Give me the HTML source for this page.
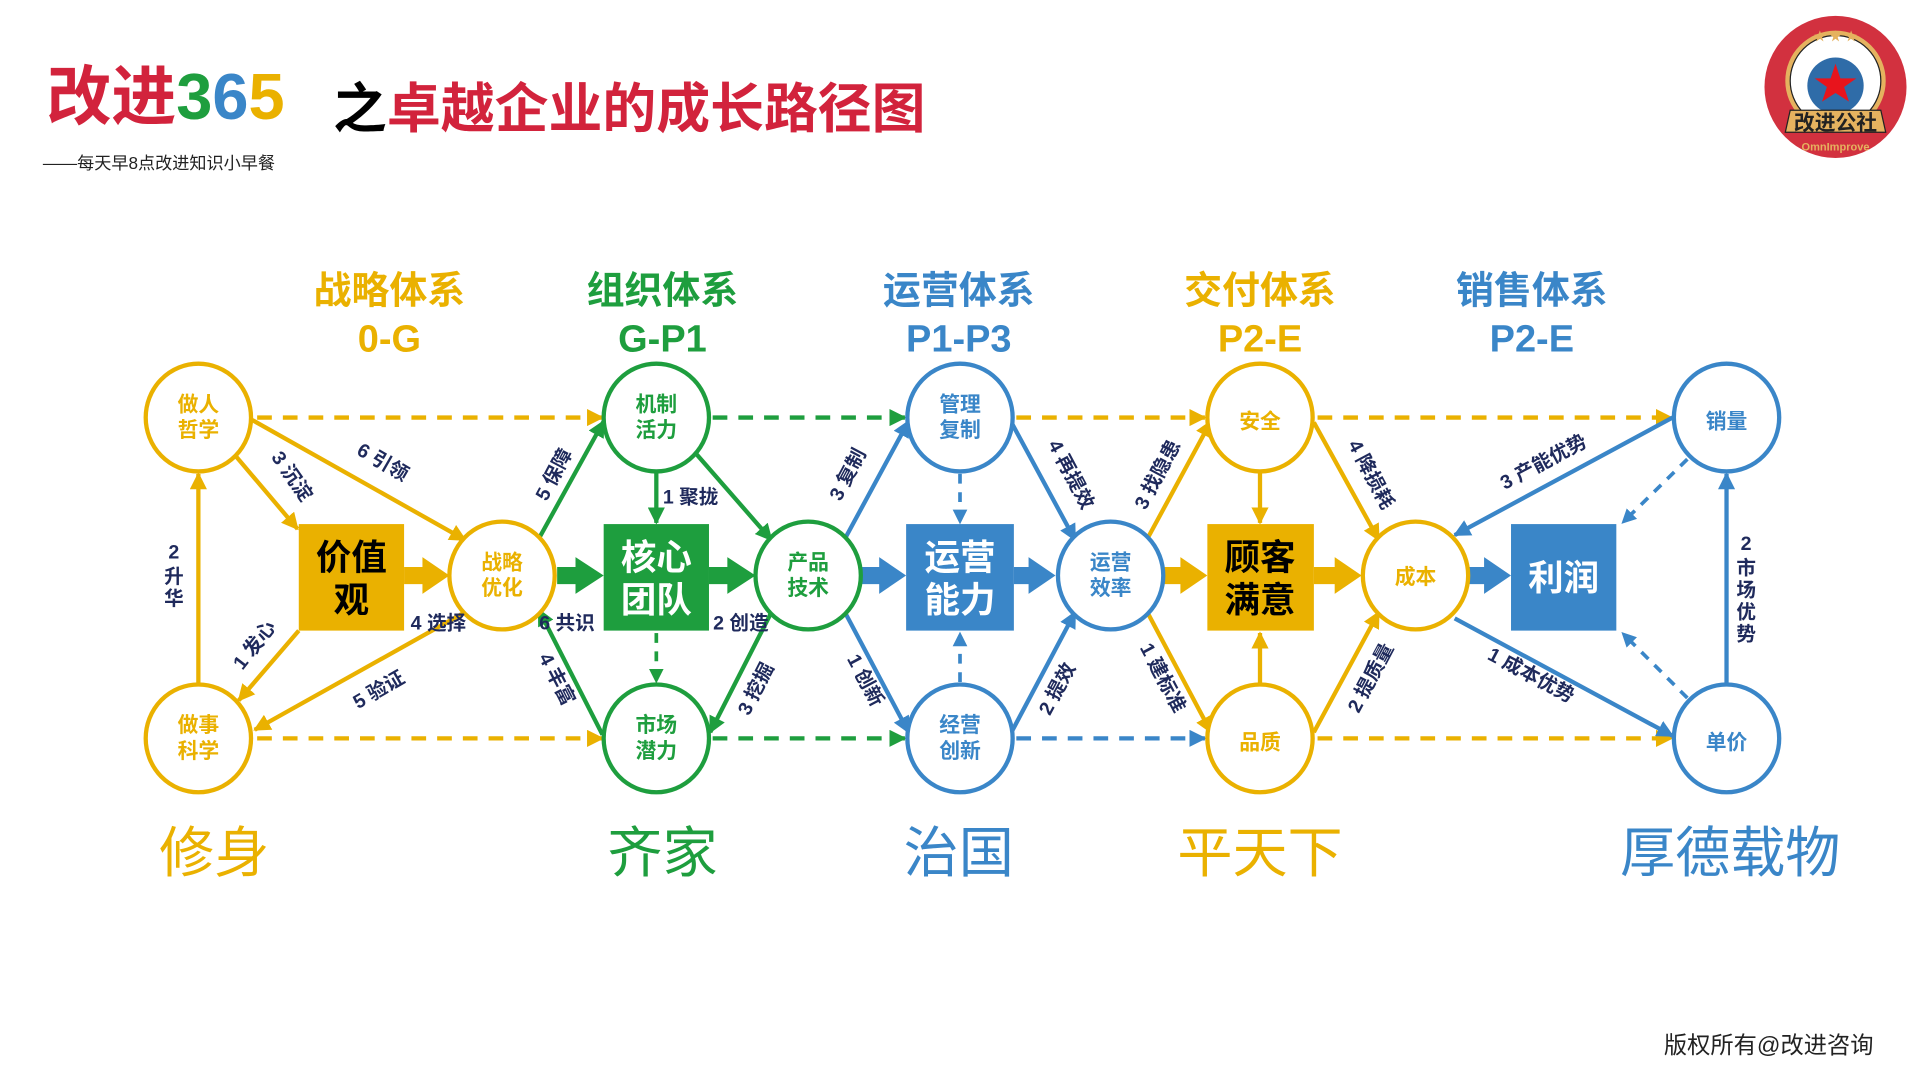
<!DOCTYPE html>
<html><head><meta charset="utf-8"><style>
html,body{margin:0;padding:0;background:#fff;}
svg{display:block;}
text{font-family:"Liberation Sans","Noto Sans CJK SC",sans-serif;font-weight:bold;}
</style></head><body>
<svg width="1920" height="1080" viewBox="0 0 1568 882" xmlns="http://www.w3.org/2000/svg">
<defs>
<marker id="ay" viewBox="0 0 10 10" refX="9" refY="5" markerWidth="4" markerHeight="4" orient="auto"><path d="M0,0L10,5L0,10z" fill="#EAB100"/></marker>
<marker id="ag" viewBox="0 0 10 10" refX="9" refY="5" markerWidth="4" markerHeight="4" orient="auto"><path d="M0,0L10,5L0,10z" fill="#1E9E3E"/></marker>
<marker id="ab" viewBox="0 0 10 10" refX="9" refY="5" markerWidth="4" markerHeight="4" orient="auto"><path d="M0,0L10,5L0,10z" fill="#3A86C8"/></marker>
</defs>

<!-- title -->
<text x="38" y="97" font-size="53" fill="#D2233C">改进<tspan fill="#1E9E3E">3</tspan><tspan fill="#3A86C8">6</tspan><tspan fill="#EAB100">5</tspan></text>
<text x="272" y="104" font-size="44" fill="#000">之<tspan fill="#D2233C">卓越企业的成长路径图</tspan></text>
<text x="35" y="138" font-size="14" fill="#222" style="font-weight:normal">——每天早8点改进知识小早餐</text>
<text x="1530" y="860" font-size="19" fill="#222" text-anchor="end" style="font-weight:normal">版权所有@改进咨询</text>

<!-- logo -->
<g>
<circle cx="1499" cy="71" r="58" fill="#D2313F"/>
<circle cx="1499" cy="66" r="41" fill="#E5B25F"/>
<circle cx="1499" cy="66" r="37" fill="#fff" stroke="#222" stroke-width="1"/>
<circle cx="1499" cy="70" r="23" fill="#2F6CA8"/>
<polygon points="1499,52 1503,64 1516,64 1506,71 1510,83 1499,76 1488,83 1492,71 1482,64 1495,64" fill="#E8141C"/>
<path d="M1462,90 L1536,90 L1540,108 L1458,108 z" fill="#E5B25F" stroke="#222" stroke-width="1"/>
<text x="1499" y="106" font-size="17" text-anchor="middle" fill="#222" font-family="Noto Serif CJK SC,serif">改进公社</text>
<text x="1499" y="123" font-size="9" text-anchor="middle" fill="#E5B25F" font-family="Liberation Serif,serif">OmnImprove</text>
<text x="1499" y="33" font-size="10" text-anchor="middle" fill="#E5B25F">★ ★ ★</text>
</g>

<!-- headings -->
<g font-size="31" text-anchor="middle">
<text x="318" y="248" fill="#EAB100">战略体系</text><text x="318" y="287" fill="#EAB100">0-G</text>
<text x="541" y="248" fill="#1E9E3E">组织体系</text><text x="541" y="287" fill="#1E9E3E">G-P1</text>
<text x="783" y="248" fill="#3A86C8">运营体系</text><text x="783" y="287" fill="#3A86C8">P1-P3</text>
<text x="1029" y="248" fill="#EAB100">交付体系</text><text x="1029" y="287" fill="#EAB100">P2-E</text>
<text x="1251" y="248" fill="#3A86C8">销售体系</text><text x="1251" y="287" fill="#3A86C8">P2-E</text>
</g>
<g font-size="45" text-anchor="middle">
<text x="175" y="712" fill="#EAB100" style="font-weight:normal">修身</text>
<text x="541" y="712" fill="#1E9E3E" style="font-weight:normal">齐家</text>
<text x="783" y="712" fill="#3A86C8" style="font-weight:normal">治国</text>
<text x="1029" y="712" fill="#EAB100" style="font-weight:normal">平天下</text>
<text x="1413" y="712" fill="#3A86C8" style="font-weight:normal">厚德载物</text>
</g>

<!-- dashed horizontals -->
<g stroke-width="3.5" stroke-dasharray="12,9" fill="none">
<line x1="210" y1="341" x2="492" y2="341" stroke="#EAB100" marker-end="url(#ay)"/>
<line x1="210" y1="603" x2="492" y2="603" stroke="#EAB100" marker-end="url(#ay)"/>
<line x1="582" y1="341" x2="739" y2="341" stroke="#1E9E3E" marker-end="url(#ag)"/>
<line x1="582" y1="603" x2="739" y2="603" stroke="#1E9E3E" marker-end="url(#ag)"/>
<line x1="830" y1="341" x2="984" y2="341" stroke="#EAB100" marker-end="url(#ay)"/>
<line x1="830" y1="603" x2="984" y2="603" stroke="#3A86C8" marker-end="url(#ab)"/>
<line x1="1076" y1="341" x2="1365" y2="341" stroke="#EAB100" marker-end="url(#ay)"/>
<line x1="1076" y1="603" x2="1365" y2="603" stroke="#EAB100" marker-end="url(#ay)"/>
<line x1="536" y1="517" x2="536" y2="557" stroke="#1E9E3E" marker-end="url(#ag)" stroke-dasharray="8,7" stroke-width="3"/>
<line x1="784" y1="387" x2="784" y2="427" stroke="#3A86C8" marker-end="url(#ab)" stroke-dasharray="8,7" stroke-width="3"/>
<line x1="784" y1="557" x2="784" y2="517" stroke="#3A86C8" marker-end="url(#ab)" stroke-dasharray="8,7" stroke-width="3"/>
<line x1="1378" y1="375" x2="1325" y2="427" stroke="#3A86C8" marker-end="url(#ab)" stroke-dasharray="8,7" stroke-width="3"/>
<line x1="1378" y1="570" x2="1325" y2="517" stroke="#3A86C8" marker-end="url(#ab)" stroke-dasharray="8,7" stroke-width="3"/>
</g>

<!-- solid lines -->
<g stroke-width="3.5" fill="none">
<g stroke="#EAB100">
<line x1="162" y1="558" x2="162" y2="387" marker-end="url(#ay)"/>
<line x1="193" y1="373" x2="243" y2="432" marker-end="url(#ay)"/>
<line x1="206" y1="343" x2="380" y2="441" marker-end="url(#ay)"/>
<line x1="244" y1="515" x2="195" y2="572" marker-end="url(#ay)"/>
<line x1="385" y1="497" x2="208" y2="596" marker-end="url(#ay)"/>
<line x1="937" y1="440" x2="989" y2="344" marker-end="url(#ay)"/>
<line x1="937" y1="500" x2="989" y2="598" marker-end="url(#ay)"/>
<line x1="1029" y1="386" x2="1029" y2="427" marker-end="url(#ay)"/>
<line x1="1029" y1="558" x2="1029" y2="517" marker-end="url(#ay)"/>
<line x1="1073" y1="345" x2="1126" y2="441" marker-end="url(#ay)"/>
<line x1="1073" y1="598" x2="1126" y2="500" marker-end="url(#ay)"/>
</g>
<g stroke="#1E9E3E">
<line x1="440" y1="440" x2="493" y2="344" marker-end="url(#ag)"/>
<line x1="492" y1="600" x2="440" y2="498" marker-end="url(#ag)"/>
<line x1="536" y1="386" x2="536" y2="427" marker-end="url(#ag)"/>
<line x1="568" y1="370" x2="630" y2="441" marker-end="url(#ag)"/>
<line x1="630" y1="500" x2="580" y2="598" marker-end="url(#ag)"/>
</g>
<g stroke="#3A86C8">
<line x1="690" y1="440" x2="742" y2="344" marker-end="url(#ab)"/>
<line x1="690" y1="500" x2="742" y2="598" marker-end="url(#ab)"/>
<line x1="826" y1="345" x2="878" y2="441" marker-end="url(#ab)"/>
<line x1="826" y1="598" x2="878" y2="500" marker-end="url(#ab)"/>
<line x1="1366" y1="341" x2="1188" y2="437" marker-end="url(#ab)"/>
<line x1="1188" y1="505" x2="1366" y2="601" marker-end="url(#ab)"/>
<line x1="1410" y1="558" x2="1410" y2="387" marker-end="url(#ab)"/>
</g>
</g>

<!-- thick arrows -->
<g>
<polygon points="330,463 345,463 345,455 367,470 345,485 345,477 330,477" fill="#EAB100"/>
<polygon points="455,463 470,463 470,455 493,470 470,485 470,477 455,477" fill="#1E9E3E"/>
<polygon points="579,463 594,463 594,455 617,470 594,485 594,477 579,477" fill="#1E9E3E"/>
<polygon points="704,463 718,463 718,455 740,470 718,485 718,477 704,477" fill="#3A86C8"/>
<polygon points="828,463 840,463 840,455 862,470 840,485 840,477 828,477" fill="#3A86C8"/>
<polygon points="951,463 964,463 964,455 986,470 964,485 964,477 951,477" fill="#EAB100"/>
<polygon points="1073,463 1090,463 1090,455 1112,470 1090,485 1090,477 1073,477" fill="#EAB100"/>
<polygon points="1200,463 1212,463 1212,455 1234,470 1212,485 1212,477 1200,477" fill="#3A86C8"/>
</g>

<!-- boxes -->
<rect x="244" y="428" width="86" height="87" fill="#EAB100"/>
<text x="287" y="465" font-size="29" text-anchor="middle" fill="#000">价值</text><text x="287" y="500" font-size="29" text-anchor="middle" fill="#000">观</text>
<rect x="493" y="428" width="86" height="87" fill="#1E9E3E"/>
<text x="536" y="465" font-size="29" text-anchor="middle" fill="#fff">核心</text><text x="536" y="500" font-size="29" text-anchor="middle" fill="#fff">团队</text>
<rect x="740" y="428" width="88" height="87" fill="#3A86C8"/>
<text x="784" y="465" font-size="29" text-anchor="middle" fill="#fff">运营</text><text x="784" y="500" font-size="29" text-anchor="middle" fill="#fff">能力</text>
<rect x="986" y="428" width="87" height="87" fill="#EAB100"/>
<text x="1029" y="465" font-size="29" text-anchor="middle" fill="#000">顾客</text><text x="1029" y="500" font-size="29" text-anchor="middle" fill="#000">满意</text>
<rect x="1234" y="428" width="86" height="87" fill="#3A86C8"/>
<text x="1277" y="482" font-size="29" text-anchor="middle" fill="#fff">利润</text>

<!-- circles -->
<g fill="#fff" stroke-width="3.5">
<ellipse cx="162" cy="341" rx="43" ry="44" stroke="#EAB100"/>
<ellipse cx="162" cy="603" rx="43" ry="44" stroke="#EAB100"/>
<ellipse cx="410" cy="470" rx="43" ry="44" stroke="#EAB100"/>
<ellipse cx="536" cy="341" rx="43" ry="44" stroke="#1E9E3E"/>
<ellipse cx="536" cy="603" rx="43" ry="44" stroke="#1E9E3E"/>
<ellipse cx="660" cy="470" rx="43" ry="44" stroke="#1E9E3E"/>
<ellipse cx="784" cy="341" rx="43" ry="44" stroke="#3A86C8"/>
<ellipse cx="784" cy="603" rx="43" ry="44" stroke="#3A86C8"/>
<ellipse cx="907" cy="470" rx="43" ry="44" stroke="#3A86C8"/>
<ellipse cx="1029" cy="341" rx="43" ry="44" stroke="#EAB100"/>
<ellipse cx="1029" cy="603" rx="43" ry="44" stroke="#EAB100"/>
<ellipse cx="1156" cy="470" rx="43" ry="44" stroke="#EAB100"/>
<ellipse cx="1410" cy="341" rx="43" ry="44" stroke="#3A86C8"/>
<ellipse cx="1410" cy="603" rx="43" ry="44" stroke="#3A86C8"/>
</g>
<g font-size="17" text-anchor="middle">
<text x="162" y="336" fill="#EAB100">做人</text><text x="162" y="357" fill="#EAB100">哲学</text>
<text x="162" y="598" fill="#EAB100">做事</text><text x="162" y="619" fill="#EAB100">科学</text>
<text x="410" y="465" fill="#EAB100">战略</text><text x="410" y="486" fill="#EAB100">优化</text>
<text x="536" y="336" fill="#1E9E3E">机制</text><text x="536" y="357" fill="#1E9E3E">活力</text>
<text x="536" y="598" fill="#1E9E3E">市场</text><text x="536" y="619" fill="#1E9E3E">潜力</text>
<text x="660" y="465" fill="#1E9E3E">产品</text><text x="660" y="486" fill="#1E9E3E">技术</text>
<text x="784" y="336" fill="#3A86C8">管理</text><text x="784" y="357" fill="#3A86C8">复制</text>
<text x="784" y="598" fill="#3A86C8">经营</text><text x="784" y="619" fill="#3A86C8">创新</text>
<text x="907" y="465" fill="#3A86C8">运营</text><text x="907" y="486" fill="#3A86C8">效率</text>
<text x="1029" y="350" fill="#EAB100">安全</text>
<text x="1029" y="612" fill="#EAB100">品质</text>
<text x="1156" y="477" fill="#EAB100">成本</text>
<text x="1410" y="350" fill="#3A86C8">销量</text>
<text x="1410" y="612" fill="#3A86C8">单价</text>
</g>

<!-- edge labels -->
<g font-size="16" fill="#1F2A5C" text-anchor="middle">
<text x="142" y="456">2</text>
<text x="142" y="476">升</text><text x="142" y="494">华</text>
<text x="1426" y="449">2</text>
<text x="1426" y="469">市</text><text x="1426" y="487">场</text><text x="1426" y="505">优</text><text x="1426" y="523">势</text>
<text transform="translate(234,392) rotate(55)">3 沉淀</text>
<text transform="translate(310,382) rotate(30)">6 引领</text>
<text transform="translate(212,530) rotate(-52)">1 发心</text>
<text transform="translate(312,568) rotate(-30)">5 验证</text>
<text x="358" y="514">4 选择</text>
<text transform="translate(457,390) rotate(-62)">5 保障</text>
<text transform="translate(450,557) rotate(63)">4 丰富</text>
<text x="463" y="514">6 共识</text>
<text x="564" y="411">1 聚拢</text>
<text x="605" y="514">2 创造</text>
<text transform="translate(622,565) rotate(-63)">3 挖掘</text>
<text transform="translate(697,390) rotate(-62)">3 复制</text>
<text transform="translate(702,558) rotate(62)">1 创新</text>
<text transform="translate(870,390) rotate(62)">4 再提效</text>
<text transform="translate(868,565) rotate(-62)">2 提效</text>
<text transform="translate(950,390) rotate(-62)">3 找隐患</text>
<text transform="translate(945,556) rotate(62)">1 建标准</text>
<text transform="translate(1115,390) rotate(62)">4 降损耗</text>
<text transform="translate(1124,556) rotate(-62)">2 提质量</text>
<text transform="translate(1263,382) rotate(-28)">3 产能优势</text>
<text transform="translate(1248,556) rotate(28)">1 成本优势</text>
</g>
</svg>
</body></html>
